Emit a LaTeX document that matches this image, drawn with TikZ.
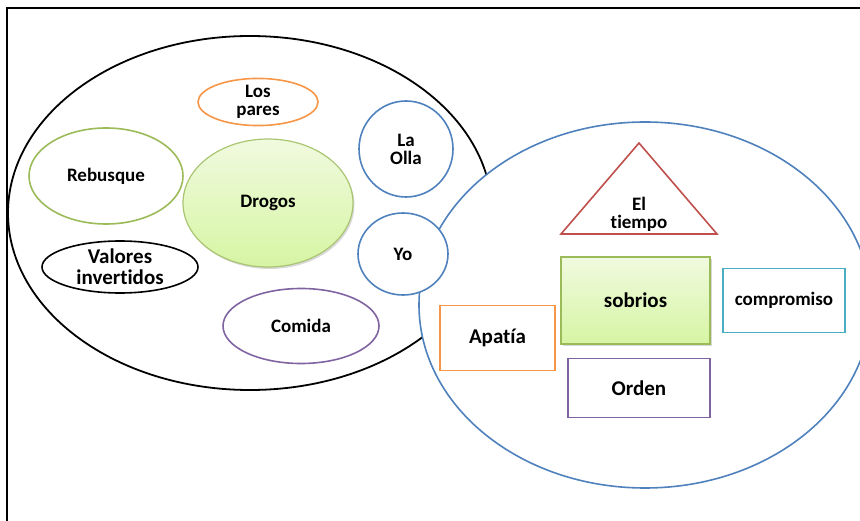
\documentclass[tikz,border=0pt]{standalone}
\usepackage{fontspec}
\setmainfont[Ligatures=CommonOff,RawFeature={-liga;-clig;-dlig}]{Carlito}
\usetikzlibrary{shapes.geometric,shadows,positioning}
\definecolor{ofblue}{HTML}{4F81BD}
\definecolor{ofgreen}{HTML}{9BBB59}
\definecolor{oforange}{HTML}{F79646}
\definecolor{ofpurple}{HTML}{8064A2}
\definecolor{ofred}{HTML}{C0504D}
\definecolor{ofcyan}{HTML}{4BACC6}
\definecolor{limetop}{HTML}{F0FADF}
\definecolor{limebot}{HTML}{D6F5A3}

\begin{document}
\begin{tikzpicture}[x=1pt,y=-1pt,
    blob/.style={ellipse,draw,line width=1.6pt,inner sep=0pt,align=center,
        font=\bfseries\fontsize{19}{18}\selectfont},
    tag/.style={rectangle,draw,line width=1.6pt,inner sep=0pt,align=center,
        font=\bfseries\fontsize{21}{21}\selectfont},
    lime/.style={top color=limetop,bottom color=limebot,
        drop shadow={shadow xshift=1.5pt,shadow yshift=-2pt,opacity=.3}}]
    \useasboundingbox (0,0) rectangle (860,521);
    \draw [line width=2pt] (7,521) -- (7,8) -- (860,8);

    % left group
    \draw [line width=1.8pt] (250,213) ellipse [x radius=242,y radius=177];
    \node (pares) at (258,102) [blob,draw=oforange,minimum width=120pt,minimum height=43pt] {Los\\pares};
    \node (rebusque) at (106,176) [blob,draw=ofgreen,minimum width=154pt,minimum height=96pt] {Rebusque};
    \node (drogos) at (268,203) [blob,lime,draw=ofgreen!85,line width=1.2pt,
        minimum width=170pt,minimum height=128pt] {\raisebox{-2pt}{Drogos}};
    \node (olla) at (406,149) [blob,draw=ofblue,minimum width=94pt,minimum height=96pt] {La\\Olla};
    \node (valores) at (120,267) [blob,draw=black,minimum width=156pt,minimum height=52pt,
        font=\bfseries\fontsize{21}{21}\selectfont] {Valores\\invertidos};
    \node (comida) at (301,326) [blob,draw=ofpurple,minimum width=156pt,minimum height=75pt] {Comida};

    % right group
    \draw [ofblue,line width=1.6pt,fill=white] (645,305) ellipse [x radius=226,y radius=183];
    \node (yo) at (403,254) [blob,draw=ofblue,fill=white,minimum width=90pt,minimum height=82pt] {Yo};
    \draw [ofred,line width=1.6pt] (639,143) -- (717,234) -- (561,234) -- cycle;
    \node (tiempo) at (639,214) [align=center,font=\bfseries\fontsize{19}{18}\selectfont] {El\\tiempo};
    \node (sobrios) at (635.5,300.5) [tag,lime,draw=ofgreen,line width=1.2pt,
        minimum width=149pt,minimum height=87pt] {sobrios};
    \node (compromiso) at (784,300.5) [tag,draw=ofcyan,minimum width=122pt,minimum height=64pt,
        font=\bfseries\fontsize{19}{19}\selectfont] {compromiso};
    \node (apatia) at (497.5,338) [tag,draw=oforange,minimum width=115pt,minimum height=65pt] {Apatía};
    \node (orden) at (639,388) [tag,draw=ofpurple,minimum width=142pt,minimum height=59pt] {Orden};
\end{tikzpicture}
\end{document}
